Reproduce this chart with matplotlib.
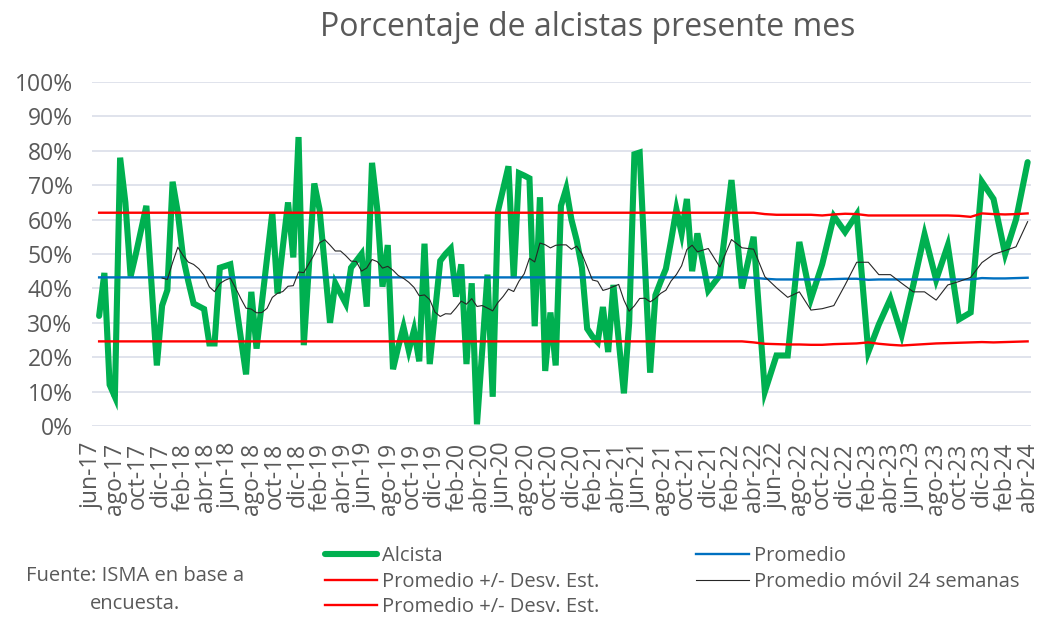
import matplotlib
matplotlib.use('Agg')
import matplotlib.pyplot as plt
import numpy as np
import pandas as pd

plt.rcParams['font.family'] = ['Open Sans', 'DejaVu Sans']

# Fechas de la encuesta: quincenal hasta nov-21, mensual desde dic-21
fechas_quincenales = pd.date_range('2017-06-20', periods=115, freq='14D')
fechas_mensuales = pd.date_range('2021-12-01', '2024-04-01', freq='MS')

# Porcentaje de alcistas
alcista_quincenal = [
    32, 44.5, 12, 8.5, 78, 65, 43.5, 50, 57, 64,
    41, 17.6, 35, 39.5, 71, 62, 49, 42, 35.6, 34.8,
    34, 24, 24, 46, 46.5, 47, 36.3, 25.7, 15, 39,
    22.5, 35.7, 48.8, 62, 38.5, 52, 65, 49, 84, 23.5,
    47, 70.5, 63, 46.5, 30, 41.5, 38.5, 35.6, 46, 48,
    50, 34.7, 76.5, 63, 40.5, 52.6, 16.5, 23, 28.8, 22,
    27.9, 18.8, 53, 18, 33, 48, 50, 51.6, 37.6, 47,
    18, 41.5, 0.5, 22, 44, 8.5, 62.5, 69, 75.5, 43,
    73.5, 72.8, 72, 29, 66.5, 16, 33, 17.6, 64, 69,
    60, 54, 46, 28.3, 26, 24.4, 34.6, 21.5, 41, 25,
    9.5, 30, 79, 79.5, 47, 15.5, 38, 42, 45.7, 54,
    63, 56, 66, 45, 56,
]
alcista_mensual = [
    39.4, 43.8, 71.5, 40, 55, 10, 20.5, 20.5, 53.5, 37,
    47, 61, 56.4, 61.5, 21.5, 29.5, 37, 26.5, 41, 55.7,
    42.5, 52.5, 31, 33, 71, 66, 50, 60, 76.7,
]

# Promedio y bandas (+/- desv. est.): constantes en el tramo quincenal
promedio_ini, superior_ini, inferior_ini = 43.2, 62.0, 24.6
promedio_mensual = [
    43.2, 43.2, 43.2, 43.2, 43.1, 42.8, 42.6, 42.6, 42.6, 42.6,
    42.6, 42.7, 42.8, 42.8, 42.5, 42.6, 42.6, 42.6, 42.6, 42.6,
    42.6, 42.6, 42.6, 42.6, 43.0, 42.9, 42.9, 43.0, 43.1,
]
superior_mensual = [
    62.0, 62.0, 62.0, 62.0, 62.0, 61.6, 61.4, 61.4, 61.4, 61.4,
    61.2, 61.5, 61.7, 61.6, 61.2, 61.2, 61.2, 61.2, 61.2, 61.2,
    61.2, 61.2, 61.1, 60.8, 61.8, 61.6, 61.5, 61.6, 61.8,
]
inferior_mensual = [
    24.6, 24.6, 24.6, 24.6, 24.3, 23.9, 23.8, 23.7, 23.7, 23.6,
    23.6, 23.8, 23.9, 24.0, 24.3, 23.9, 23.6, 23.4, 23.6, 23.8,
    24.0, 24.1, 24.2, 24.3, 24.4, 24.3, 24.4, 24.5, 24.6,
]
# Promedio móvil en el tramo mensual
movil_mensual = [
    51.6, 46.2, 54.2, 51.8, 51.4, 43.4, 40.2, 37.4, 39, 33.7,
    34.1, 35, 41, 47.6, 47.6, 44, 44, 41.5, 39, 39,
    36.6, 41, 42, 43.2, 47.5, 49.9, 51, 52.1, 59.4,
]

fechas = fechas_quincenales.append(fechas_mensuales)
alcista = np.array(alcista_quincenal + alcista_mensual) / 100
n_q = len(alcista_quincenal)
promedio = np.array([promedio_ini] * n_q + promedio_mensual) / 100
superior = np.array([superior_ini] * n_q + superior_mensual) / 100
inferior = np.array([inferior_ini] * n_q + inferior_mensual) / 100

# promedio móvil de 24 semanas = 12 encuestas quincenales
movil_q = pd.Series(alcista_quincenal).rolling(12).mean().to_numpy()
movil_q[:12] = np.nan
movil = np.concatenate([movil_q, movil_mensual]) / 100

# etiquetas del eje x cada dos meses
meses = ['ene', 'feb', 'mar', 'abr', 'may', 'jun', 'jul', 'ago', 'sep', 'oct', 'nov', 'dic']
ticks = pd.date_range('2017-06-01', '2024-04-01', freq='2MS')
tick_labels = [f'{meses[t.month - 1]}-{t.strftime("%y")}' for t in ticks]

gris = '#595959'
fig = plt.figure(figsize=(10.4, 6.19), dpi=100)
ax = fig.add_axes([92 / 1040, 1 - 426 / 619, (1031 - 92) / 1040, (426 - 82) / 619])

l1, = ax.plot(fechas, alcista, color='#00B050', lw=4.4, solid_joinstyle='miter',
              solid_capstyle='round', label='Alcista', zorder=2)
l2, = ax.plot(fechas, superior, color='#FF0000', lw=1.7, label='Promedio +/- Desv. Est.', zorder=3)
l3, = ax.plot(fechas, inferior, color='#FF0000', lw=1.7, label='Promedio +/- Desv. Est.', zorder=3)
l4, = ax.plot(fechas, promedio, color='#0070C0', lw=1.7, label='Promedio', zorder=3)
l5, = ax.plot(fechas, movil, color='#262626', lw=0.8, label='Promedio móvil 24 semanas', zorder=4)

ax.set_ylim(0, 1)
ax.set_yticks(np.arange(0, 1.01, 0.1))
ax.set_yticklabels([f'{int(round(v * 100))}%' for v in np.arange(0, 1.01, 0.1)])
ax.set_xlim(pd.Timestamp('2017-06-01'), pd.Timestamp('2024-04-10'))
ax.set_xticks(ticks)
ax.set_xticklabels(tick_labels, rotation=90)

ax.grid(axis='y', color='#dde1ea', lw=1.3, zorder=0)
ax.set_axisbelow(True)
for s in ax.spines.values():
    s.set_visible(False)
ax.tick_params(axis='both', length=0, colors=gris, labelsize=16.5)
ax.tick_params(axis='y', pad=14)
ax.tick_params(axis='x', pad=12)

fig.text(588 / 1040, 1 - 28 / 619, 'Porcentaje de alcistas presente mes', ha='center',
         va='center', fontsize=23, color=gris)

fig.text(135 / 1040, 1 - 590 / 619, 'Fuente: ISMA en base a\nencuesta.', ha='center',
         va='center', fontsize=14.5, color=gris, linespacing=1.5)

fig.legend(handles=[l1, l2, l3, l4, l5], ncol=2, frameon=False, fontsize=14.5,
           loc='upper left', bbox_to_anchor=(325 / 1040, 1 - 546 / 619), borderpad=0,
           borderaxespad=0, handlelength=2.6, handletextpad=0.25, columnspacing=4.8,
           labelspacing=0.28, labelcolor=gris)

fig.savefig('out.png', dpi=100)
